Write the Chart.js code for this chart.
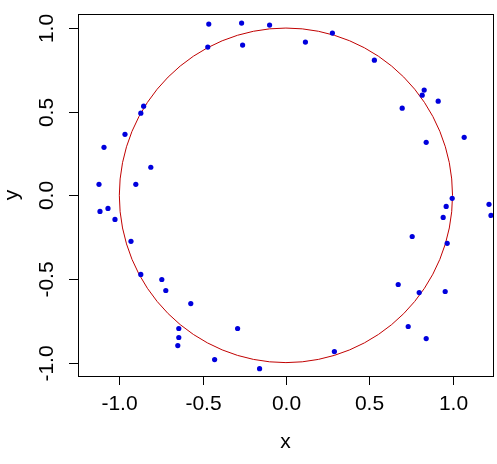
<!DOCTYPE html>
<html lang="en">
<head>
<meta charset="UTF-8">
<script src="https://cdn.jsdelivr.net/npm/chart.js"></script>
<title>Points round a unit circle</title>
<style>
  body { margin: 0; background: #fff; }
  #wrap { width: 497px; height: 464px; position: relative; }
</style>
</head>
<body>
<div id="wrap"><canvas id="chart"></canvas></div>
<script>
// points
const xValues = [-0.463, -0.266, -0.469, -0.260, -0.854, -0.871, -0.966, -1.092, -0.811, -1.122, -0.901,
  -0.098, 0.279, 0.117, 0.531, 0.830, 0.818, 0.914, 0.698, 1.070, 0.842, 0.998,
  -1.116, -1.068, -1.026, -0.930, -0.871, -0.745, -0.721, -0.571, -0.643, -0.643, -0.649, -0.428, -0.290,
  -0.158, 0.291, 1.219, 1.231, 0.962, 0.944, 0.968, 0.758, 0.674, 0.800, 0.956, 0.734, 0.842];
const yValues = [1.024, 1.030, 0.886, 0.898, 0.533, 0.491, 0.365, 0.287, 0.168, 0.066, 0.066,
  1.018, 0.970, 0.916, 0.808, 0.629, 0.599, 0.563, 0.521, 0.347, 0.317, -0.018,
  -0.096, -0.078, -0.144, -0.275, -0.473, -0.503, -0.569, -0.647, -0.796, -0.850, -0.898, -0.982, -0.796,
  -1.036, -0.934, -0.054, -0.120, -0.066, -0.132, -0.287, -0.246, -0.533, -0.581, -0.575, -0.784, -0.856];
const xTicks = [-1, -0.5, 0, 0.5, 1];
const yTicks = [-1, -0.5, 0, 0.5, 1];
const xTitle = 'x';
const yTitle = 'y';
const circleRadius = 1;

const points = xValues.map((x, i) => ({ x: x, y: yValues[i] }));
const font = '21px "Liberation Sans", Arial, sans-serif';

// R-style box, ticks, labels and the red circle
const basePlot = {
  id: 'basePlot',
  beforeDatasetsDraw(chart) {
    const ctx = chart.ctx;
    const xs = chart.scales.x, ys = chart.scales.y;
    const cx = xs.getPixelForValue(0), cy = ys.getPixelForValue(0);
    const rx = Math.abs(xs.getPixelForValue(circleRadius) - cx);
    const ry = Math.abs(ys.getPixelForValue(circleRadius) - cy);
    ctx.save();
    ctx.strokeStyle = '#c00000';
    ctx.lineWidth = 1;
    ctx.beginPath();
    ctx.ellipse(cx, cy, rx, ry, 0, 0, Math.PI * 2);
    ctx.stroke();
    ctx.restore();
  },
  afterDraw(chart) {
    const ctx = chart.ctx;
    const a = chart.chartArea;
    const xs = chart.scales.x, ys = chart.scales.y;
    ctx.save();
    ctx.strokeStyle = '#000';
    ctx.fillStyle = '#000';
    ctx.lineWidth = 1;
    ctx.strokeRect(Math.round(a.left) + 0.5, Math.round(a.top) + 0.5,
      Math.round(a.right - a.left), Math.round(a.bottom - a.top));
    ctx.font = font;

    // x axis
    ctx.textAlign = 'center';
    ctx.textBaseline = 'middle';
    xTicks.forEach(v => {
      const px = Math.round(xs.getPixelForValue(v)) + 0.5;
      ctx.beginPath();
      ctx.moveTo(px, a.bottom);
      ctx.lineTo(px, a.bottom + 9);
      ctx.stroke();
      ctx.fillText(v.toFixed(1), px, a.bottom + 28);
    });
    ctx.fillText(xTitle, (a.left + a.right) / 2, a.bottom + 66);

    // y axis, labels turned like R does
    yTicks.forEach(v => {
      const py = Math.round(ys.getPixelForValue(v)) + 0.5;
      ctx.beginPath();
      ctx.moveTo(a.left, py);
      ctx.lineTo(a.left - 9, py);
      ctx.stroke();
      ctx.save();
      ctx.translate(a.left - 31, py);
      ctx.rotate(-Math.PI / 2);
      ctx.fillText(v.toFixed(1), 0, 0);
      ctx.restore();
    });
    ctx.save();
    ctx.translate(12, (a.top + a.bottom) / 2);
    ctx.rotate(-Math.PI / 2);
    ctx.fillText(yTitle, 0, 0);
    ctx.restore();
    ctx.restore();
  }
};

new Chart('chart', {
  type: 'scatter',
  data: {
    datasets: [{
      data: points,
      backgroundColor: '#0000dd',
      borderColor: '#0000dd',
      pointRadius: 2.6,
      borderWidth: 0
    }]
  },
  options: {
    responsive: true,
    maintainAspectRatio: false,
    animation: false,
    layout: { padding: { left: 78, right: 3, top: 14, bottom: 88 } },
    scales: {
      x: { type: 'linear', min: -1.248, max: 1.243, display: false },
      y: { type: 'linear', min: -1.080, max: 1.084, display: false }
    },
    plugins: { legend: { display: false }, tooltip: { enabled: false } }
  },
  plugins: [basePlot]
});
</script>
</body>
</html>
